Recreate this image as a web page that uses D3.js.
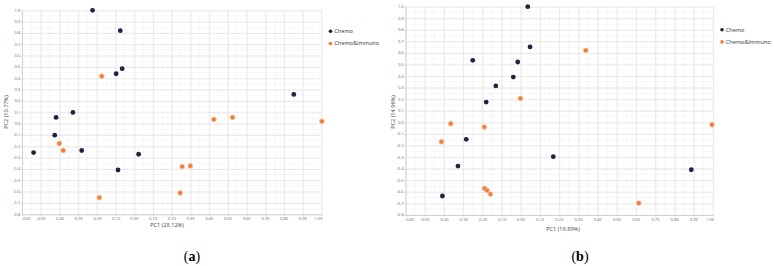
<!DOCTYPE html>
<html>
<head>
<meta charset="utf-8">
<script src="https://cdn.jsdelivr.net/npm/d3@7"></script>
<style>
	html, body { margin: 0; padding: 0; background: #fff; }
	svg { display: block; }
	.tick-label { font-family: 'Open Sans', sans-serif; font-size: 4px; fill: #666; }
	.axis-title { font-family: 'Open Sans', sans-serif; font-size: 5.6px; fill: #444; }
	.legend-text { font-family: 'Open Sans', sans-serif; font-size: 5.6px; fill: #333; }
	.panel-label { font-family: 'Liberation Serif', serif; font-size: 14px; fill: #000; }
</style>
</head>
<body>
<svg id="chart" width="774" height="266"></svg>
<script>
// Global vars
var CHEMO_COLOR = '#1b2440';
var IMMUNO_COLOR = '#ee7c3a';

var seriesNames = ['Chemo', 'Chemo&Immuno'];

var xTickValues = [-0.6, -0.5, -0.4, -0.3, -0.2, -0.1, 0, 0.1, 0.2, 0.3, 0.4, 0.5, 0.6, 0.7, 0.8, 0.9, 1.0];
var yTickValues = [-0.8, -0.7, -0.6, -0.5, -0.4, -0.3, -0.2, -0.1, 0, 0.1, 0.2, 0.3, 0.4, 0.5, 0.6, 0.7, 0.8, 0.9, 1.0];

// panel (a): [PC1, PC2]
var chemoA = [
	[-0.223, 1.0], [-0.075, 0.82], [-0.097, 0.44], [-0.065, 0.485],
	[-0.328, 0.099], [-0.418, 0.055], [-0.425, -0.102], [-0.538, -0.255],
	[-0.281, -0.237], [0.023, -0.27], [-0.087, -0.409], [0.852, 0.258]
];
var immunoA = [
	[-0.174, 0.418], [-0.401, -0.175], [-0.38, -0.237], [-0.187, -0.653],
	[0.256, -0.379], [0.299, -0.373], [0.245, -0.612], [0.425, 0.037],
	[0.525, 0.055], [1.002, 0.02]
];

// panel (b)
var chemoB = [
	[0.036, 1.0], [0.048, 0.652], [-0.25, 0.537], [-0.016, 0.522],
	[-0.039, 0.392], [-0.13, 0.315], [-0.18, 0.176], [-0.284, -0.146],
	[-0.327, -0.377], [0.169, -0.296], [-0.408, -0.636], [0.887, -0.409]
];
var immunoB = [
	[0.338, 0.623], [-0.002, 0.208], [-0.365, -0.011], [-0.19, -0.04],
	[-0.413, -0.167], [-0.189, -0.57], [-0.176, -0.587], [-0.158, -0.619],
	[0.995, -0.02], [0.614, -0.697]
];

var svg = d3.select('#chart');

/*
 * Render one PCA scatter panel.
 */
var renderPanel = function(config) {
	var box = config['box'];

	var xScale = d3.scaleLinear()
		.domain([-0.6, 1.0])
		.range([box.left, box.right]);

	var yScale = d3.scaleLinear()
		.domain([-0.8, 1.0])
		.range([box.bottom, box.top]);

	var g = svg.append('g');

	// minor grid every 0.05
	var minorX = d3.range(-0.6, 1.0001, 0.05);
	var minorY = d3.range(-0.8, 1.0001, 0.05);

	g.append('g').selectAll('line')
		.data(minorX)
		.enter().append('line')
		.attr('x1', function(d) { return xScale(d); })
		.attr('x2', function(d) { return xScale(d); })
		.attr('y1', box.top)
		.attr('y2', box.bottom)
		.attr('stroke', '#f1f1f1')
		.attr('stroke-width', 0.6);

	g.append('g').selectAll('line')
		.data(minorY)
		.enter().append('line')
		.attr('x1', box.left)
		.attr('x2', box.right)
		.attr('y1', function(d) { return yScale(d); })
		.attr('y2', function(d) { return yScale(d); })
		.attr('stroke', '#f1f1f1')
		.attr('stroke-width', 0.6);

	// major grid via axes
	g.append('g')
		.attr('transform', 'translate(0,' + box.bottom + ')')
		.call(d3.axisBottom(xScale)
			.tickValues(xTickValues)
			.tickSize(-(box.bottom - box.top))
			.tickFormat(''))
		.call(function(sel) {
			sel.select('.domain').remove();
			sel.selectAll('line').attr('stroke', '#e2e2e2').attr('stroke-width', 0.7);
		});

	g.append('g')
		.attr('transform', 'translate(' + box.left + ',0)')
		.call(d3.axisLeft(yScale)
			.tickValues(yTickValues)
			.tickSize(-(box.right - box.left))
			.tickFormat(''))
		.call(function(sel) {
			sel.select('.domain').remove();
			sel.selectAll('line').attr('stroke', '#e2e2e2').attr('stroke-width', 0.7);
		});

	// axis lines + small ticks
	g.append('g')
		.attr('transform', 'translate(0,' + box.bottom + ')')
		.call(d3.axisBottom(xScale).tickValues(xTickValues).tickSize(1.5).tickSizeOuter(0).tickFormat(''))
		.call(function(sel) {
			sel.select('.domain').attr('stroke', '#c8c8c8').attr('stroke-width', 0.7);
			sel.selectAll('line').attr('stroke', '#c8c8c8').attr('stroke-width', 0.6);
		});

	g.append('g')
		.attr('transform', 'translate(' + box.left + ',0)')
		.call(d3.axisLeft(yScale).tickValues(yTickValues).tickSize(1.5).tickSizeOuter(0).tickFormat(''))
		.call(function(sel) {
			sel.select('.domain').attr('stroke', '#c8c8c8').attr('stroke-width', 0.7);
			sel.selectAll('line').attr('stroke', '#c8c8c8').attr('stroke-width', 0.6);
		});

	// tick labels
	g.append('g').selectAll('text')
		.data(xTickValues)
		.enter().append('text')
		.attr('class', 'tick-label')
		.attr('x', function(d, i) {
			// end labels are pulled inside the plot
			if (i == 0) { return xScale(d) + 4; }
			if (i == xTickValues.length - 1) { return xScale(d) - 3; }
			return xScale(d);
		})
		.attr('y', box.bottom + 5.5)
		.attr('text-anchor', 'middle')
		.text(function(d) { return d3.format('.2f')(d).replace('−', '-'); });

	g.append('g').selectAll('text')
		.data(yTickValues)
		.enter().append('text')
		.attr('class', 'tick-label')
		.attr('x', box.left - 2)
		.attr('y', function(d) { return yScale(d) + 1.4; })
		.attr('text-anchor', 'end')
		.text(function(d) { return d3.format('.1f')(d).replace('−', '-'); });

	// axis titles
	g.append('text')
		.attr('class', 'axis-title')
		.attr('x', config['xTitlePos'][0])
		.attr('y', config['xTitlePos'][1])
		.attr('text-anchor', 'middle')
		.text(config['xTitle']);

	g.append('text')
		.attr('class', 'axis-title')
		.attr('transform', 'translate(' + config['yTitlePos'][0] + ',' + config['yTitlePos'][1] + ') rotate(-90)')
		.attr('text-anchor', 'middle')
		.text(config['yTitle']);

	// points
	var groups = [
		{ values: config['chemo'], color: CHEMO_COLOR, halo: 'none' },
		{ values: config['immuno'], color: IMMUNO_COLOR, halo: '#f6c09c' }
	];

	groups.forEach(function(grp) {
		g.append('g').selectAll('circle')
			.data(grp.values)
			.enter().append('circle')
			.attr('cx', function(d) { return xScale(d[0]); })
			.attr('cy', function(d) { return yScale(d[1]); })
			.attr('r', 2.4)
			.attr('fill', grp.color)
			.attr('stroke', grp.halo)
			.attr('stroke-width', 0.8);
	});

	// legend
	var legend = g.append('g')
		.attr('transform', 'translate(' + config['legendPos'][0] + ',' + config['legendPos'][1] + ')');

	legend.selectAll('circle')
		.data(seriesNames)
		.enter().append('circle')
		.attr('cx', 0)
		.attr('cy', function(d, i) { return i * 12.2; })
		.attr('r', 1.8)
		.attr('fill', function(d, i) { return i == 0 ? CHEMO_COLOR : IMMUNO_COLOR; });

	legend.selectAll('text')
		.data(seriesNames)
		.enter().append('text')
		.attr('class', 'legend-text')
		.attr('x', 3.8)
		.attr('y', function(d, i) { return i * 12.2 + 2; })
		.text(function(d) { return d; });

	// panel label
	var label = g.append('text')
		.attr('class', 'panel-label')
		.attr('x', config['labelPos'][0])
		.attr('y', config['labelPos'][1])
		.attr('text-anchor', 'middle');
	label.append('tspan').text('(');
	label.append('tspan').attr('font-weight', 'bold').text(config['label']);
	label.append('tspan').text(')');
};

renderPanel({
	box: { left: 22, right: 321.5, top: 10.3, bottom: 214.3 },
	chemo: chemoA,
	immuno: immunoA,
	xTitle: 'PC1 (28.12%)',
	yTitle: 'PC2 (10.77%)',
	xTitlePos: [167, 227],
	yTitlePos: [8, 112],
	legendPos: [330.5, 31.3],
	label: 'a',
	labelPos: [192, 261]
});

renderPanel({
	box: { left: 405.5, right: 713, top: 6.7, bottom: 215 },
	chemo: chemoB,
	immuno: immunoB,
	xTitle: 'PC1 (19.89%)',
	yTitle: 'PC2 (14.96%)',
	xTitlePos: [563, 230.5],
	yTitlePos: [395, 112],
	legendPos: [722, 29.7],
	label: 'b',
	labelPos: [580, 261]
});
</script>
</body>
</html>
